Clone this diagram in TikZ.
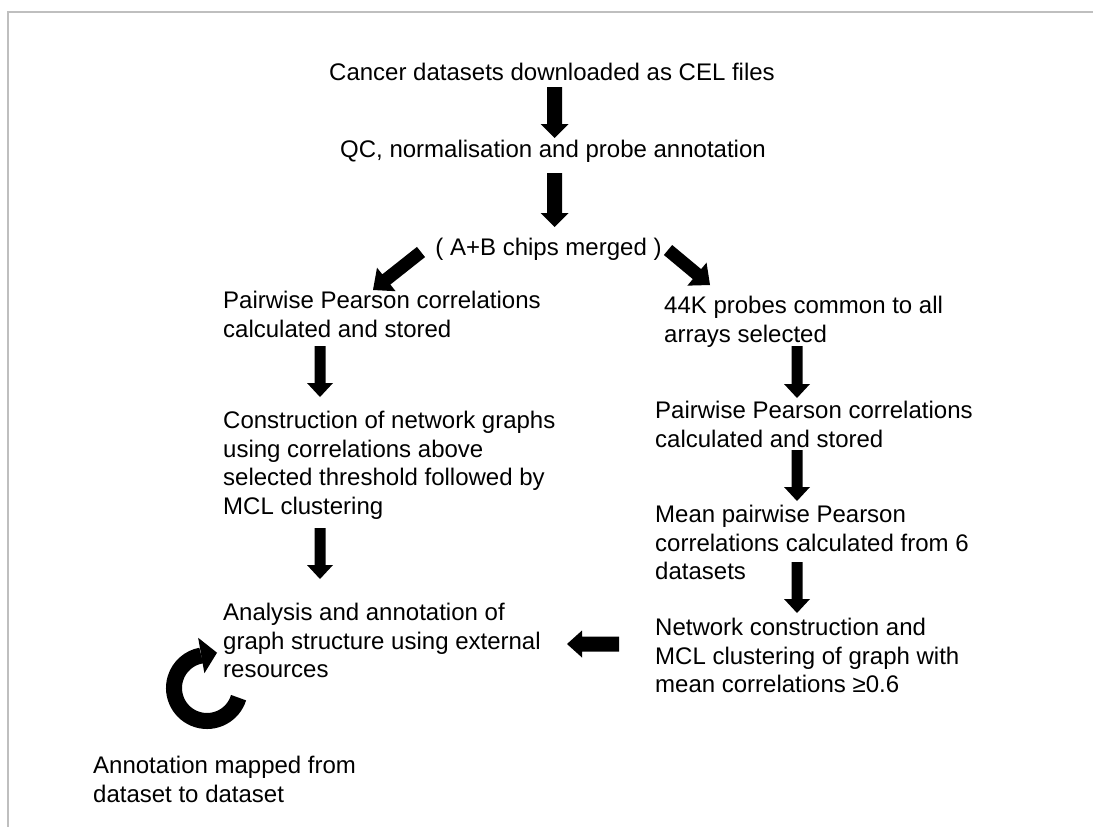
\documentclass[tikz,border=0pt]{standalone}
\usepackage{fontspec}
\setmainfont{Liberation Sans}
\usetikzlibrary{calc}
% #1 start, #2 end, #3 half shaft width, #4 half head width, #5 head length
\newcommand{\blockarrow}[5]{%
  \coordinate (bah) at ($(#2)!#5!(#1)$);
  \fill[black] ($(#1)!#3!90:(#2)$) -- ($(bah)!#3!90:(#2)$) -- ($(bah)!#4!90:(#2)$) -- (#2)
    -- ($(bah)!#4!-90:(#2)$) -- ($(bah)!#3!-90:(#2)$) -- ($(#1)!#3!-90:(#2)$) -- cycle;}
\begin{document}
\begin{tikzpicture}[x=1pt,y=-1pt,
  txt/.style={font=\fontsize{24}{28.8}\selectfont, inner sep=0pt, align=left, anchor=north west},
  ctxt/.style={font=\fontsize{24}{28.8}\selectfont, inner sep=0pt, anchor=base},
  frameline/.style={draw=black!25, line width=2pt}]
\useasboundingbox (0,0) rectangle (1093,827);
\draw[frameline] (1093,11.5) -- (8,11.5) -- (8,827);

% texts
\node[ctxt] (cel) at (552,80) {Cancer datasets downloaded as CEL files};
\node[ctxt] (qc) at (553,157) {QC, normalisation and probe annotation};
\node[ctxt] (ab) at (548.5,255) {( A+B chips merged )};

\node[txt] (lpw) at (223,290.8) {Pairwise Pearson correlations\\calculated and stored};
\node[txt] (lcon) at (223,410.8) {Construction of network graphs\\using correlations above\\selected threshold followed by\\MCL clustering};
\node[txt] (lana) at (223,602.8) {Analysis and annotation of\\graph structure using external\\resources};
\node[txt] (lmap) at (93,755.8) {Annotation mapped from\\dataset to dataset};

\node[txt] (r44) at (664,295.8) {44K probes common to all\\arrays selected};
\node[txt] (rpw) at (655,400.8) {Pairwise Pearson correlations\\calculated and stored};
\node[txt] (rmean) at (655,504.8) {Mean pairwise Pearson\\correlations calculated from 6\\datasets};
\node[txt] (rnet) at (655,617.8) {Network construction and\\MCL clustering of graph with\\mean correlations ≥0.6};

% arrow end points
\coordinate (a1s) at (554.5,87);   \coordinate (a1e) at (554.5,138);
\coordinate (a2s) at (554.5,173);  \coordinate (a2e) at (554.5,227);
\coordinate (dls) at (421,252);    \coordinate (dle) at (373,290);
\coordinate (drs) at (668,250);    \coordinate (dre) at (710,285);
\coordinate (l1s) at (320,346);    \coordinate (l1e) at (320,397);
\coordinate (l2s) at (320,528);    \coordinate (l2e) at (320,579);
\coordinate (r1s) at (797,346);    \coordinate (r1e) at (797,398);
\coordinate (r2s) at (797,450);    \coordinate (r2e) at (797,501);
\coordinate (r3s) at (797,562);    \coordinate (r3e) at (797,613);
\coordinate (hs) at (619,644);     \coordinate (he) at (567,644);

\blockarrow{a1s}{a1e}{7.5pt}{14pt}{14pt}
\blockarrow{a2s}{a2e}{7.5pt}{14pt}{14pt}
\blockarrow{dls}{dle}{6.5pt}{15pt}{17pt}
\blockarrow{drs}{dre}{6.5pt}{15pt}{17pt}
\blockarrow{l1s}{l1e}{5.5pt}{13pt}{14pt}
\blockarrow{l2s}{l2e}{5.5pt}{13pt}{14pt}
\blockarrow{r1s}{r1e}{5.5pt}{13pt}{14pt}
\blockarrow{r2s}{r2e}{5.5pt}{13pt}{14pt}
\blockarrow{r3s}{r3e}{5.5pt}{13pt}{14pt}
\blockarrow{hs}{he}{7.5pt}{13.5pt}{15pt}

% circular arrow
\coordinate (circ) at (207,688);
\draw[line width=16pt] ($(circ)+(-17:33pt)$) arc[start angle=-17, end angle=-260, radius=33pt];
\fill ($(circ)+(100:15pt)$) -- ($(circ)+(100:51pt)$) -- ($(circ)+(100:33pt)+(10:16pt)$) -- cycle;
\end{tikzpicture}
\end{document}
